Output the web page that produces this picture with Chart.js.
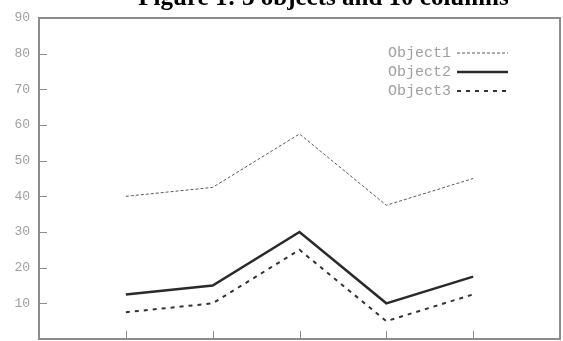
<!DOCTYPE html>
<html>
<head>
<meta charset="utf-8">
<script src="https://cdn.jsdelivr.net/npm/chart.js@4/dist/chart.umd.min.js"></script>
<style>
    html, body { margin: 0; padding: 0; background: #fff; overflow: hidden; }
    #myChart { display: block; }
</style>
</head>
<body>
<canvas id="myChart" width="563" height="341"></canvas>
<script>
const titleText = 'Figure 1: 3 objects and 10 columns';
const columns = [1, 2, 3, 4, 5];
const object1 = [40, 42.5, 57.5, 37.5, 45];
const object2 = [12.5, 15, 30, 10, 17.5];
const object3 = [7.5, 10, 25, 5, 12.5];
const yTicks = [10, 20, 30, 40, 50, 60, 70, 80, 90];

const frameColor = '#8c8c8c';

/**
 * 列番号と値の配列から点の配列を作ります。
 */
const toPoints = (values) => columns.map((c, i) => ({ x: c, y: values[i] }));

/**
 * 枠線と内向きの目盛りを描きます。
 */
const framePlugin = {
    id: 'frame',
    afterDraw: (chart) => {
        const ctx = chart.ctx;
        const area = chart.chartArea;
        const xScale = chart.scales.x;
        const yScale = chart.scales.y;
        const w = area.right - area.left;
        const h = area.bottom - area.top;

        ctx.save();
        ctx.fillStyle = frameColor;
        ctx.fillRect(area.left - 1, area.top - 1, w + 2, 2);
        ctx.fillRect(area.left - 1, area.bottom - 1, w + 2, 2);
        ctx.fillRect(area.left - 1, area.top - 1, 2, h + 2);
        ctx.fillRect(area.right - 1, area.top - 1, 2, h + 2);

        ctx.strokeStyle = frameColor;
        ctx.lineWidth = 1;
        ctx.beginPath();
        yScale.ticks.forEach((t) => {
            const y = Math.round(yScale.getPixelForValue(t.value)) + 0.5;
            ctx.moveTo(area.left, y);
            ctx.lineTo(area.left + 8, y);
        });
        xScale.ticks.forEach((t) => {
            const x = Math.round(xScale.getPixelForValue(t.value)) + 0.5;
            ctx.moveTo(x, area.bottom);
            ctx.lineTo(x, area.bottom - 8);
        });
        ctx.stroke();
        ctx.restore();
    },
};

/**
 * 上端で切れているタイトルを描きます。
 */
const titlePlugin = {
    id: 'cutTitle',
    afterDraw: (chart) => {
        const ctx = chart.ctx;
        ctx.save();
        ctx.font = 'bold 25px "Liberation Serif", serif';
        ctx.fillStyle = '#000';
        ctx.textAlign = 'center';
        ctx.textBaseline = 'alphabetic';
        ctx.fillText(titleText, 323.5, 5);
        ctx.restore();
    },
};

/**
 * グラフ内の凡例を描きます。
 */
const legendPlugin = {
    id: 'innerLegend',
    afterDraw: (chart) => {
        const ctx = chart.ctx;
        const area = chart.chartArea;

        ctx.save();
        ctx.font = '15px "Liberation Mono", monospace';
        ctx.textBaseline = 'middle';
        ctx.textAlign = 'left';

        chart.data.datasets.forEach((ds, i) => {
            const y = area.top + 35 + i * 19;
            ctx.fillStyle = '#a0a0a0';
            ctx.fillText(ds.label, area.right - 172, y);

            ctx.strokeStyle = ds.borderColor;
            ctx.lineWidth = ds.borderWidth;
            ctx.setLineDash(ds.borderDash || []);
            ctx.beginPath();
            ctx.moveTo(area.right - 103, y);
            ctx.lineTo(area.right - 52, y);
            ctx.stroke();
        });
        ctx.restore();
    },
};

const createChart = () => {
    const config = {
        type: 'line',
        data: {
            datasets: [
                {
                    label: 'Object1',
                    data: toPoints(object1),
                    borderColor: '#5a5a5a',
                    borderWidth: 1,
                    borderDash: [3, 2],
                },
                {
                    label: 'Object2',
                    data: toPoints(object2),
                    borderColor: '#2a2a2a',
                    borderWidth: 2.5,
                },
                {
                    label: 'Object3',
                    data: toPoints(object3),
                    borderColor: '#333333',
                    borderWidth: 2,
                    borderDash: [4, 5],
                },
            ],
        },
        options: {
            responsive: false,
            animation: false,
            layout: { padding: { top: 18, right: 3, bottom: 2, left: 0 } },
            elements: {
                point: { radius: 0 },
                line: { tension: 0 },
            },
            plugins: {
                legend: { display: false },
                title: { display: false },
                tooltip: { enabled: false },
            },
            scales: {
                x: {
                    type: 'linear',
                    min: 0,
                    max: 6,
                    afterBuildTicks: (scale) => {
                        scale.ticks = columns.map((v) => ({ value: v }));
                    },
                    afterFit: (scale) => {
                        scale.height = 0;
                        scale.paddingLeft = 0;
                        scale.paddingRight = 0;
                    },
                    ticks: { display: false },
                    grid: { display: false, drawTicks: false },
                    border: { display: false },
                },
                y: {
                    min: 0,
                    max: 90,
                    afterBuildTicks: (scale) => {
                        scale.ticks = yTicks.map((v) => ({ value: v }));
                    },
                    afterFit: (scale) => {
                        scale.width = 39;
                        scale.paddingTop = 0;
                        scale.paddingBottom = 0;
                    },
                    ticks: {
                        padding: 9,
                        color: '#a0a0a0',
                        font: { family: '"Liberation Mono", monospace', size: 13 },
                    },
                    grid: { display: false, drawTicks: false },
                    border: { display: false },
                },
            },
        },
        plugins: [framePlugin, legendPlugin, titlePlugin],
    };

    return new Chart(document.getElementById('myChart'), config);
};

createChart();
</script>
</body>
</html>
